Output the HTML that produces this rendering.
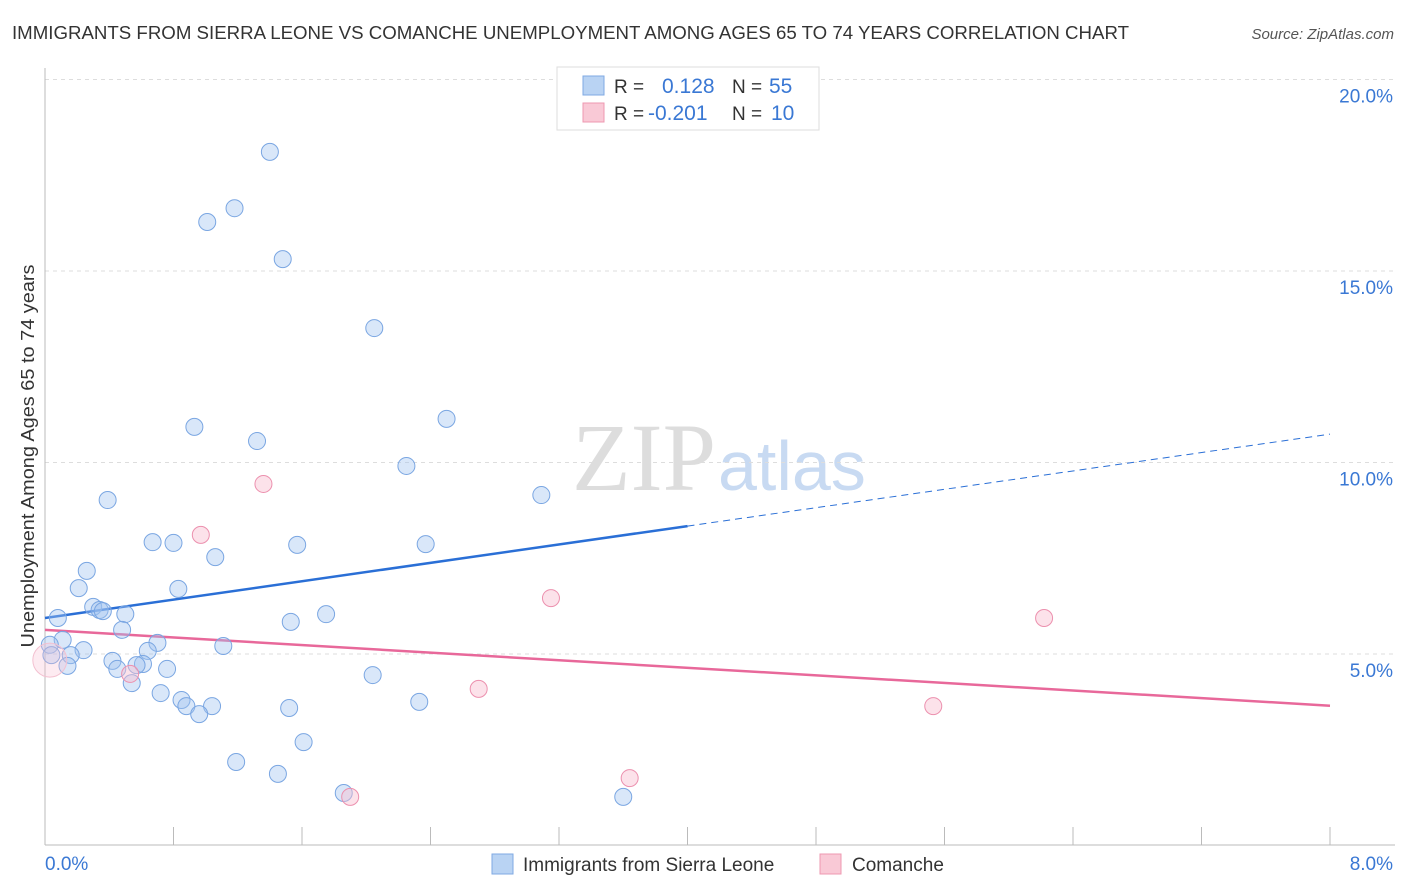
<!DOCTYPE html>
<html><head><meta charset="utf-8"><style>
body{margin:0;background:#fff;font-family:"Liberation Sans",sans-serif}
svg{display:block}
</style></head><body>
<svg id="chart" width="1406" height="892">
<text x="12" y="39" font-size="18" textLength="1117" lengthAdjust="spacingAndGlyphs" fill="#333">IMMIGRANTS FROM SIERRA LEONE VS COMANCHE UNEMPLOYMENT AMONG AGES 65 TO 74 YEARS CORRELATION CHART</text>
<text x="1394" y="39" font-size="15" fill="#555" font-style="italic" text-anchor="end">Source: ZipAtlas.com</text>
<text x="716" y="490" font-size="96" fill="#ddd" text-anchor="end" font-family="Liberation Serif,serif">ZIP</text>
<text x="718" y="490" font-size="70" fill="#c8daf2">atlas</text>
<text transform="translate(34,456) rotate(-90)" font-size="18" textLength="383" lengthAdjust="spacingAndGlyphs" fill="#333" text-anchor="middle">Unemployment Among Ages 65 to 74 years</text>
<g id="grid"></g><g id="axes"></g><g id="lines"></g><g id="pts"></g>
<g>
<rect x="557" y="67" width="262" height="63" fill="#fff" stroke="#ddd"/>
<rect x="583" y="76" width="21" height="19" fill="#b9d3f3" stroke="#7fa9e3"/>
<rect x="583" y="103" width="21" height="19" fill="#f9c9d6" stroke="#ee98b0"/>
<text x="614" y="93" font-size="19" fill="#333">R =</text><text x="662" y="93" font-size="21" fill="#3a78d4">0.128</text>
<text x="732" y="93" font-size="19" fill="#333">N =</text><text x="769" y="93" font-size="21" fill="#3a78d4">55</text>
<text x="614" y="120" font-size="19" fill="#333">R =</text><text x="648" y="120" font-size="21" fill="#3a78d4">-0.201</text>
<text x="732" y="120" font-size="19" fill="#333">N =</text><text x="771" y="120" font-size="21" fill="#3a78d4">10</text>
</g>
<g>
<rect x="492" y="854" width="21" height="20" fill="#b9d3f3" stroke="#7fa9e3"/>
<text x="523" y="871" font-size="19" fill="#333">Immigrants from Sierra Leone</text>
<rect x="820" y="854" width="21" height="20" fill="#f9c9d6" stroke="#ee98b0"/>
<text x="852" y="871" font-size="19" fill="#333">Comanche</text>
</g>
</svg>
<script>
const xTicksLabels=["0.0%","8.0%"];
const yTicks=[5,10,15,20];
const blueX=[1.40,1.18,1.01,1.48,2.05,2.50,0.93,1.32,2.25,3.09,0.39,0.67,0.80,1.06,1.57,2.37,0.26,0.21,0.83,0.30,0.34,0.36,0.50,1.75,0.08,0.48,1.53,0.11,0.70,1.11,0.03,0.24,0.64,0.04,0.16,0.42,0.76,0.61,0.57,0.45,0.14,2.04,0.54,0.72,0.85,0.88,1.04,0.96,2.33,1.52,1.61,1.19,1.45,1.86,3.60];
const blueY=[18.11,16.64,16.28,15.31,13.51,11.14,10.93,10.56,9.91,9.15,9.02,7.92,7.90,7.53,7.85,7.87,7.17,6.72,6.70,6.23,6.15,6.12,6.04,6.04,5.94,5.63,5.84,5.37,5.29,5.21,5.24,5.10,5.08,4.97,4.97,4.82,4.61,4.74,4.71,4.61,4.69,4.45,4.24,3.98,3.80,3.64,3.64,3.43,3.75,3.59,2.70,2.18,1.87,1.37,1.27];
const pinkX=[1.36,0.97,3.15,6.22,0.53,2.70,5.53,3.64,1.90,0.03];
const pinkY=[9.44,8.11,6.46,5.94,4.48,4.09,3.64,1.76,1.27,4.84];
const blueTrend=[5.94,0.60];
const pinkTrend=[5.63,-0.2475];
const NS="http://www.w3.org/2000/svg";
const X=v=>45+v/8*1285, Y=v=>845.5-v*38.3;
function mk(p,t,a){const e=document.createElementNS(NS,t);for(const k in a)e.setAttribute(k,a[k]);document.getElementById(p).appendChild(e);return e;}
yTicks.forEach(t=>{
 let l=mk('grid','line',{x1:45,x2:1395,y1:Y(t),y2:Y(t),stroke:'#ddd','stroke-dasharray':'4,4'});
 
 
 let tx=mk('grid','text',{x:1393,y:Y(t)+23,'font-size':19,fill:'#3a78d4','text-anchor':'end'});tx.textContent=t.toFixed(1)+'%';
 
 
});
mk('axes','line',{x1:45,x2:45,y1:68,y2:845,stroke:'#bbb'});
mk('axes','line',{x1:45,x2:1395,y1:845,y2:845,stroke:'#bbb'});
for(let i=1;i<=10;i++){mk('axes','line',{x1:X(i*0.8),x2:X(i*0.8),y1:827,y2:845,stroke:'#bbb'});}
let a=mk('axes','text',{x:45,y:870,'font-size':19,fill:'#3a78d4'});a.textContent=xTicksLabels[0];


let b=mk('axes','text',{x:1393,y:870,'font-size':19,fill:'#3a78d4','text-anchor':'end'});b.textContent=xTicksLabels[1];


let bl=mk('lines','line',{x1:X(0),y1:Y(blueTrend[0]),x2:X(4),y2:Y(blueTrend[0]+4*blueTrend[1]),stroke:'#2a6fd6','stroke-width':2.5});


let bd=mk('lines','line',{x1:X(4),y1:Y(blueTrend[0]+4*blueTrend[1]),x2:X(8),y2:Y(blueTrend[0]+8*blueTrend[1]),stroke:'#2a6fd6','stroke-width':1,'stroke-dasharray':'7,5'});


let pl=mk('lines','line',{x1:X(0),y1:Y(pinkTrend[0]),x2:X(8),y2:Y(pinkTrend[0]+8*pinkTrend[1]),stroke:'#e8689a','stroke-width':2.5});


blueX.forEach((x,i)=>{
 let c=mk('pts','circle',{cx:X(x),cy:Y(blueY[i]),r:8.5,fill:'rgba(160,195,240,0.4)',stroke:'#7aa6e2','stroke-width':1});
 
 
});
pinkX.forEach((x,i)=>{
 let c=mk('pts','circle',{cx:X(x),cy:Y(pinkY[i]),r:i==9?17:8.5,fill:i==9?'rgba(248,190,208,0.3)':'rgba(248,190,208,0.45)',stroke:i==9?'#f3c0d0':'#ec90ae','stroke-width':1});
 
 
});
</script>
</body></html>
